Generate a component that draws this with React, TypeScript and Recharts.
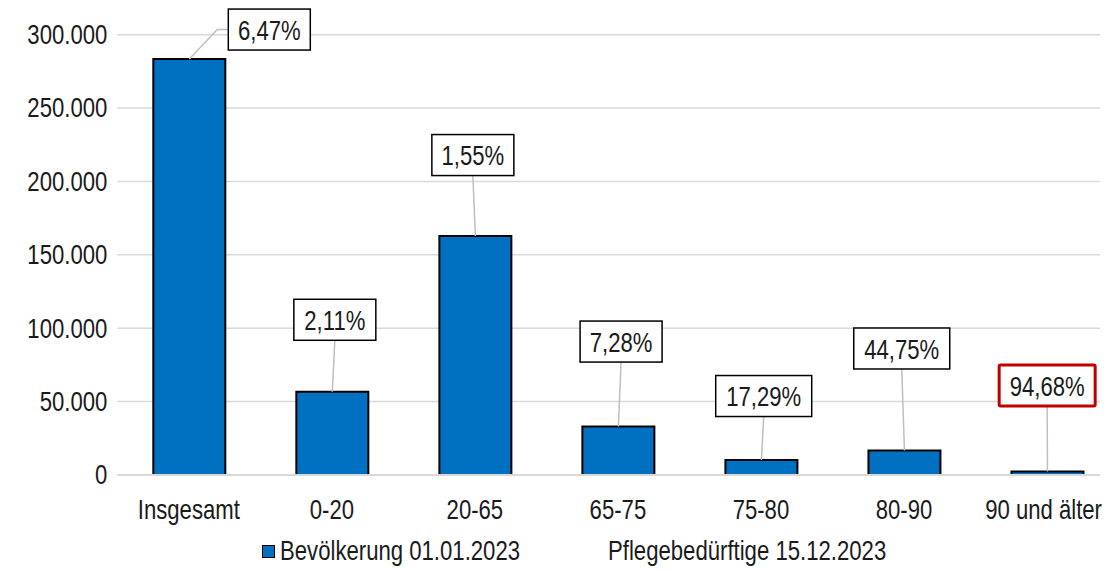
import React from 'react';
import { BarChart, Bar, XAxis, YAxis, CartesianGrid, Legend, LabelList, ReferenceLine } from 'recharts';

// ---- data ----
const categories = ['Insgesamt', '0-20', '20-65', '65-75', '75-80', '80-90', '90 und älter'];
const population = [283400, 56700, 162800, 33000, 10200, 16700, 2400];
const careShares = ['6,47%', '2,11%', '1,55%', '7,28%', '17,29%', '44,75%', '94,68%'];
const yTicks = [0, 50000, 100000, 150000, 200000, 250000, 300000];
const seriesNames = ['Bevölkerung 01.01.2023', 'Pflegebedürftige 15.12.2023'];

// ---- styling ----
const FONT = "'Liberation Sans', Arial, sans-serif";
const FONT_SIZE = 27;
const NARROW = 0.82; // horizontal squeeze to imitate a narrow typeface
const BLUE = '#0070C0';
const GRID = '#D9D9D9';
const LEADER = '#BFBFBF';
const TEXT = '#1A1A1A';
// callout box centre, relative to the top centre of its bar (manual label placement)
const calloutOffsets: [number, number][] = [
  [80, -29.5],
  [2.5, -72],
  [-2.5, -81],
  [2.7, -85],
  [2.3, -64],
  [-2.7, -102],
  [-0.3, -86],
];
const highlightedIndex = 6;

const data = categories.map((category, i) => ({
  category,
  population: population[i],
  share: careShares[i],
}));

const fmt = (v: number) => String(v).replace(/\B(?=(\d{3})+(?!\d))/g, '.');

function NarrowText(props: any) {
  const { x, y, anchor, baseline, children } = props;
  return (
    <g transform={`translate(${x},${y}) scale(${NARROW},1)`}>
      <text
        x={0}
        y={0}
        textAnchor={anchor}
        dominantBaseline={baseline}
        fontFamily={FONT}
        fontSize={FONT_SIZE}
        fill={TEXT}
      >
        {children}
      </text>
    </g>
  );
}

function YTick(props: any) {
  const { x, y, payload } = props;
  return (
    <NarrowText x={x} y={y} anchor="end" baseline="central">
      {fmt(payload.value)}
    </NarrowText>
  );
}

function XTick(props: any) {
  const { x, y, payload, index } = props;
  const last = index === categories.length - 1;
  return (
    <NarrowText x={last ? x + 55 : x} y={y + 36} anchor={last ? 'end' : 'middle'} baseline="auto">
      {payload.value}
    </NarrowText>
  );
}

function renderCallout(props: any) {
  const { x, y, width, value } = props;
  let index = props.index;
  if (typeof index !== 'number') index = careShares.indexOf(String(value));
  const [dx, dy] = calloutOffsets[index] || [0, -60];
  const cx = Number(x) + Number(width) / 2;
  const top = Number(y);
  const text = String(value);
  const bw = text.length * 14 + 12;
  const bh = 41;
  const bx = cx + dx;
  const by = top + dy;
  const left = bx - bw / 2;
  const boxTop = by - bh / 2;
  const boxBottom = by + bh / 2;
  const red = index === highlightedIndex;
  const side = Math.abs(dx) > bw / 2;
  return (
    <g key={`callout-${index}`}>
      {side ? (
        <polyline
          points={`${cx},${top} ${left - 11},${by} ${left},${by}`}
          fill="none"
          stroke={LEADER}
          strokeWidth={1.5}
        />
      ) : (
        <line x1={bx} y1={boxBottom} x2={cx} y2={top} stroke={LEADER} strokeWidth={1.5} />
      )}
      <rect
        x={left}
        y={boxTop}
        width={bw}
        height={bh}
        fill="#fff"
        stroke={red ? '#C00000' : '#000'}
        strokeWidth={red ? 3 : 1.5}
        rx={red ? 1.5 : 0}
      />
      <NarrowText x={bx} y={by + 1} anchor="middle" baseline="central">
        {text}
      </NarrowText>
    </g>
  );
}

const legendText: React.CSSProperties = {
  position: 'absolute',
  top: 0,
  lineHeight: '30px',
  whiteSpace: 'nowrap',
  transform: `scaleX(${NARROW})`,
  transformOrigin: 'left center',
};

function renderLegend() {
  return (
    <div style={{ position: 'relative', width: 1109, height: 30, fontFamily: FONT, fontSize: FONT_SIZE, color: TEXT }}>
      <span
        style={{
          position: 'absolute',
          left: 262,
          top: 9,
          width: 11,
          height: 11,
          background: BLUE,
          border: '1px solid #000',
        }}
      />
      <span style={{ ...legendText, left: 280 }}>{seriesNames[0]}</span>
      <span style={{ ...legendText, left: 608 }}>{seriesNames[1]}</span>
    </div>
  );
}

export default function App() {
  return (
    <div style={{ position: 'absolute', left: 0, top: 0, width: 1109, height: 571, background: '#fff' }}>
      <BarChart
        width={1109}
        height={571}
        data={data}
        margin={{ top: 34.7, right: 9, bottom: 26, left: 7.3 }}
        barSize={72}
      >
        <CartesianGrid vertical={false} stroke={GRID} strokeWidth={1.5} />
        <XAxis
          dataKey="category"
          height={40}
          axisLine={false}
          tickLine={false}
          tick={<XTick />}
          interval={0}
          padding={{ left: 0, right: -18.5 }}
        />
        <YAxis
          width={110}
          domain={[0, 300000]}
          ticks={yTicks}
          axisLine={false}
          tickLine={false}
          tickMargin={4}
          tick={<YTick />}
        />
        <Bar
          dataKey="population"
          name={seriesNames[0]}
          fill={BLUE}
          stroke="#000"
          strokeWidth={2}
          isAnimationActive={false}
        >
          <LabelList dataKey="share" content={renderCallout} />
        </Bar>
        <ReferenceLine y={0} stroke={GRID} strokeWidth={2} />
        <Legend
          verticalAlign="bottom"
          content={renderLegend}
          wrapperStyle={{ left: 0, top: 536, width: 1109, height: 30 }}
        />
      </BarChart>
    </div>
  );
}
